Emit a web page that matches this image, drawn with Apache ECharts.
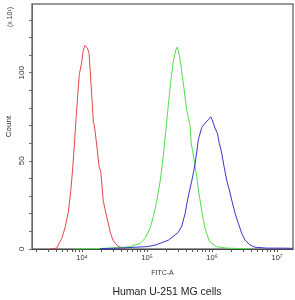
<!DOCTYPE html>
<html>
<head>
<meta charset="utf-8">
<script src="https://cdn.jsdelivr.net/npm/echarts@6/dist/echarts.min.js"></script>
<style>
html,body{margin:0;padding:0;background:#fff;}
#chart{width:295px;height:300px;}
</style>
</head>
<body>
<div id="chart"></div>
<script>
// x values are log10(FITC-A), y values are Count (x10^1)
var redX   = [3.508,3.611,3.688,3.738,3.789,3.826,3.857,3.882,3.908,3.934,3.958,3.995,4.020,4.046,4.082,4.108,4.123,4.149,4.174,4.190,4.226,4.262,4.288,4.328,4.400,4.438,4.477,4.554,4.660];
var redY   = [0,0.5,6,12,21,32.6,46,59,74,87.5,99,106,113,115.5,114,111,102.6,87.5,72,70,59,46.8,44,27,15,9,5,1.5,0.3];

var greenX = [3.892,4.277,4.585,4.738,4.892,4.969,5.046,5.097,5.149,5.200,5.251,5.288,5.328,5.365,5.405,5.442,5.466,5.497,5.515,5.534,5.569,5.592,5.615,5.662,5.680,5.700,5.738,5.765,5.789,5.815,5.842,5.866,5.892,5.918,5.954,5.995,6.072,6.226,6.585];
var greenY = [0,0.3,0.8,1.3,3.2,6,11.7,18.4,27,38,53,66.6,81.8,95,106.4,113,114.5,110,106,100.7,91,84,78,70,60,56,47,41,34,27.8,21.5,16.5,12,8.9,5,3.2,1.3,0.5,0.1];

var blueX  = [4.277,4.585,4.815,4.995,5.123,5.200,5.328,5.431,5.482,5.534,5.585,5.635,5.688,5.738,5.765,5.789,5.805,5.842,5.892,5.943,5.980,6.000,6.020,6.046,6.082,6.112,6.149,6.185,6.226,6.266,6.303,6.354,6.405,6.457,6.508,6.585,6.662,6.842,7.046,7.246];
var blueY  = [0.2,0.5,1,1.3,2.2,3.2,5,8,9.5,13,20,30,38.5,48,55,62,64,69,71.4,73.3,75,73.5,71.4,68.6,65.7,60,54.4,46.8,39,33.5,27.8,20.3,14.6,8.9,5.1,2.3,1,0.5,0.5,0.4];

var xMajorTicks = [4,5,6,7];
var xMinorMult  = [2,3,4,5,6,7,8,9];
var xDecades    = [3,4,5,6];
var yTicks      = [0,10,20,30,40,50,60,70,80,90,100,110,120,130];
var yLabels     = [0,50,100];
var xLabelText  = {4:'10\u2074',5:'10\u2075',6:'10\u2076',7:'10\u2077'};

function pairs(xs, ys){ return xs.map(function(x,i){ return [x, ys[i]]; }); }

var xTickVals = xMajorTicks.slice();
xDecades.forEach(function(d){
  xMinorMult.forEach(function(m){
    var v = d + Math.log10(m);
    if (v >= 3.23 && v <= 7.246) xTickVals.push(v);
  });
});
xTickVals.sort(function(a,b){return a-b;});

var font = 'Liberation Sans, Arial, sans-serif';
var chart = echarts.init(document.getElementById('chart'), null, {renderer:'canvas'});
chart.setOption({
  animation:false,
  backgroundColor:'#fff',
  title:{
    text:'Human U-251 MG cells',
    left:162, top:282, textAlign:'center',
    textStyle:{fontFamily:font, fontSize:10.5, fontWeight:'normal', color:'#222'}
  },
  grid:{left:32, right:2, top:4, bottom:51, containLabel:false, outerBoundsMode:'none',
        show:true, borderColor:'#777', borderWidth:1.5, backgroundColor:'#fff'},
  xAxis:{
    type:'value', min:3.23, max:7.246,
    name:'FITC-A', nameLocation:'middle', nameGap:21, nameMoveOverlap:false,
    nameTextStyle:{fontFamily:font, fontSize:7, color:'#333'},
    axisLine:{show:true, lineStyle:{color:'#444', width:1}},
    axisTick:{show:true, customValues:xTickVals, length:3, lineStyle:{color:'#555'}},
    axisLabel:{customValues:xMajorTicks, margin:5, fontFamily:font, fontSize:7.5, color:'#333',
      formatter:function(v){ return xLabelText[Math.round(v)] || ''; }},
    splitLine:{show:false}
  },
  yAxis:{
    type:'value', min:0, max:139,
    name:'Count', nameLocation:'middle', nameGap:19, nameRotate:90, nameMoveOverlap:false,
    nameTextStyle:{fontFamily:font, fontSize:8, color:'#333'},
    axisLine:{show:true, lineStyle:{color:'#666', width:1}},
    axisTick:{show:true, customValues:yTicks, length:3, lineStyle:{color:'#666'}},
    axisLabel:{customValues:yLabels, rotate:90, margin:6, fontFamily:font, fontSize:8, color:'#333'},
    splitLine:{show:false}
  },
  graphic:[{
    type:'text', x:10, y:17, rotation:Math.PI/2, origin:[0,0],
    style:{text:'(x 10\u00b9)', fontFamily:font, fontSize:7, fill:'#333', align:'center', verticalAlign:'middle'}
  }],
  series:[
    {type:'line', data:pairs(redX, redY), showSymbol:false, lineStyle:{color:'#e2474b', width:1}, z:3},
    {type:'line', data:pairs(greenX, greenY), showSymbol:false, lineStyle:{color:'#4ee04a', width:1}, z:4},
    {type:'line', data:pairs(blueX, blueY), showSymbol:false, lineStyle:{color:'#3a36c8', width:1}, z:5}
  ]
});
</script>
</body>
</html>
